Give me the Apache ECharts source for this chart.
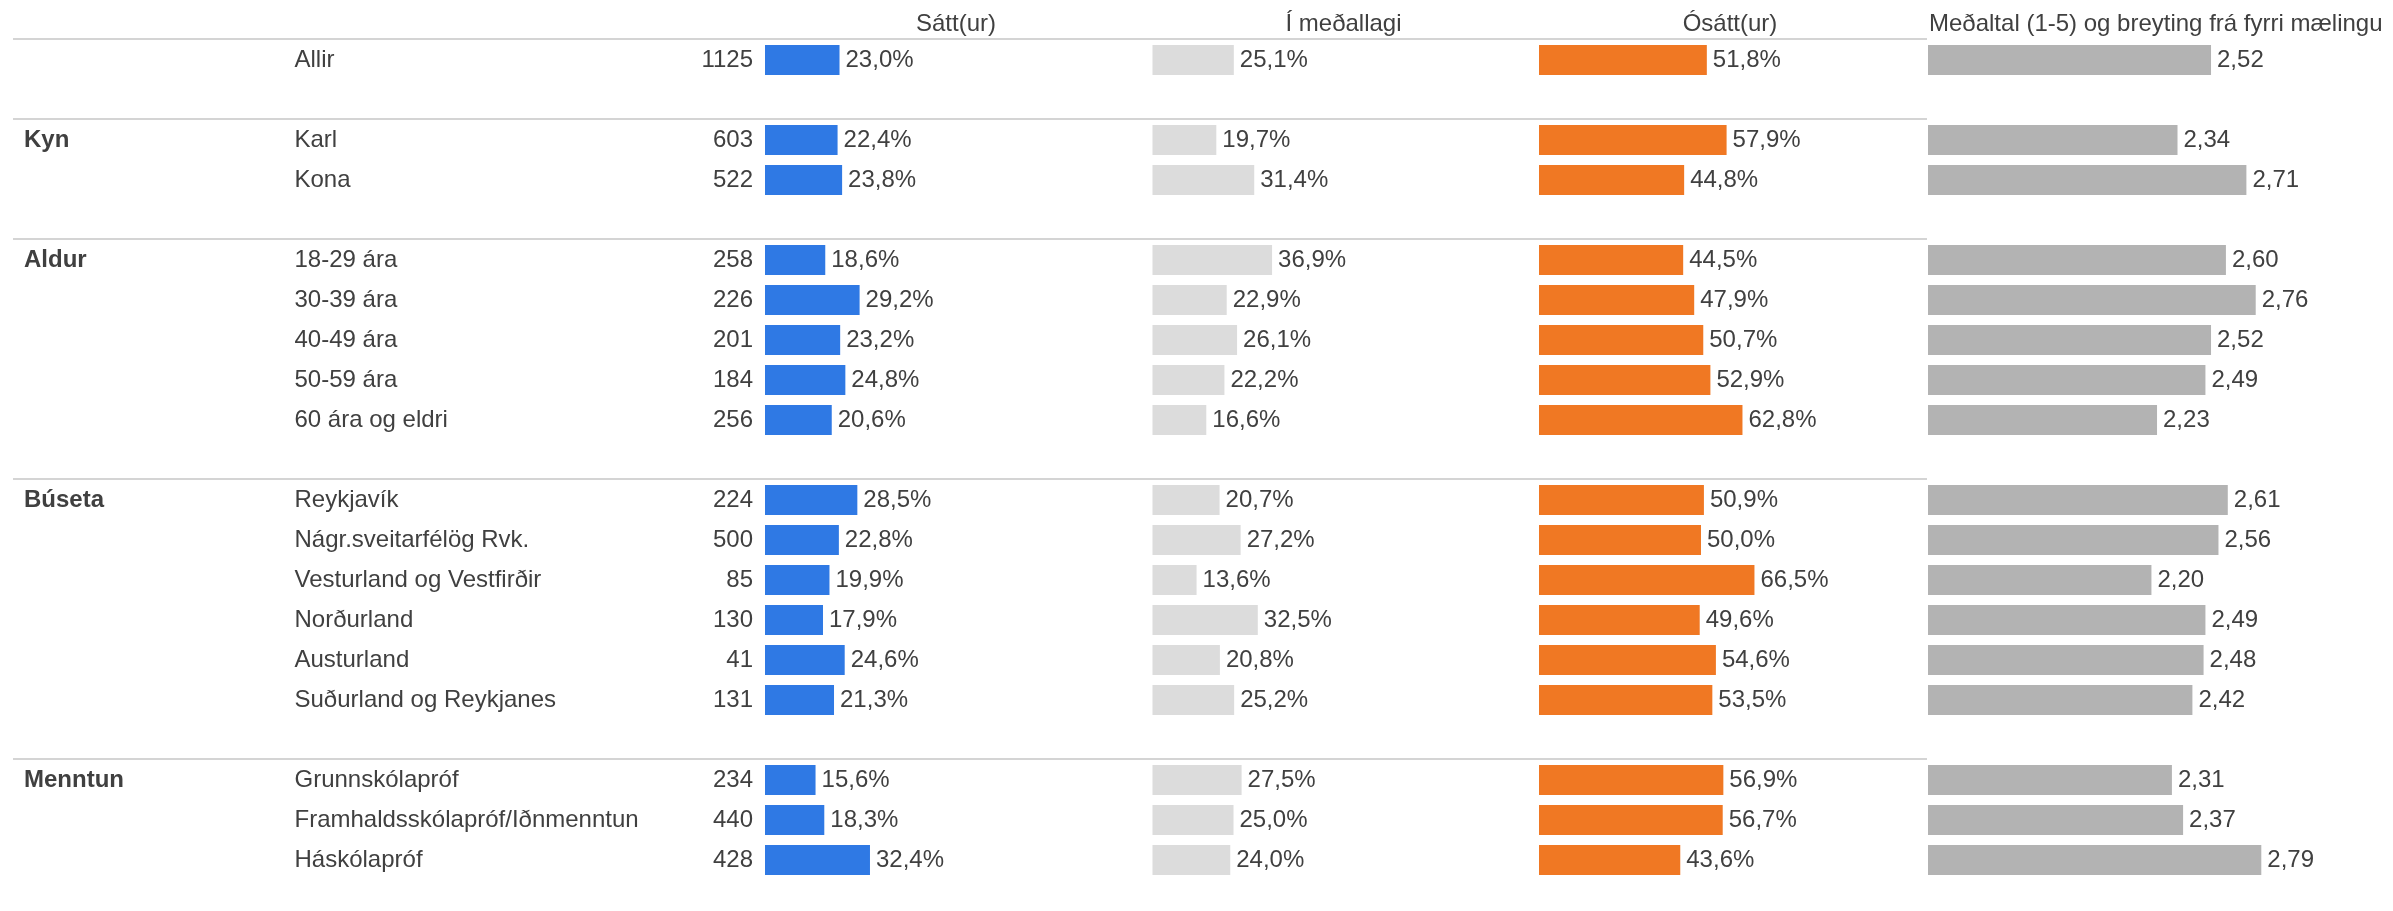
<!DOCTYPE html>
<html>
<head>
<meta charset="utf-8">
<script src="https://cdn.jsdelivr.net/npm/echarts@6/dist/echarts.min.js"></script>
<style>
  html, body { margin: 0; padding: 0; background: #ffffff; }
  #chart { width: 2393px; height: 911px; }
</style>
</head>
<body>
<div id="chart"></div>
<script>
// Column headers
const headers = ['Sátt(ur)', 'Í meðallagi', 'Ósátt(ur)', 'Meðaltal (1-5) og breyting frá fyrri mælingu'];

// Background groups and how many rows each has
const groupNames = ['', 'Kyn', 'Aldur', 'Búseta', 'Menntun'];
const groupSizes = [1, 2, 5, 6, 3];

// Row labels and sample sizes
const subLabels = ['Allir', 'Karl', 'Kona', '18-29 ára', '30-39 ára', '40-49 ára', '50-59 ára', '60 ára og eldri',
  'Reykjavík', 'Nágr.sveitarfélög Rvk.', 'Vesturland og Vestfirðir', 'Norðurland', 'Austurland', 'Suðurland og Reykjanes',
  'Grunnskólapróf', 'Framhaldsskólapróf/Iðnmenntun', 'Háskólapróf'];
const counts = [1125, 603, 522, 258, 226, 201, 184, 256, 224, 500, 85, 130, 41, 131, 234, 440, 428];

// Shares (%) and mean score (1-5)
const satt  = [23.0, 22.4, 23.8, 18.6, 29.2, 23.2, 24.8, 20.6, 28.5, 22.8, 19.9, 17.9, 24.6, 21.3, 15.6, 18.3, 32.4];
const midl  = [25.1, 19.7, 31.4, 36.9, 22.9, 26.1, 22.2, 16.6, 20.7, 27.2, 13.6, 32.5, 20.8, 25.2, 27.5, 25.0, 24.0];
const osatt = [51.8, 57.9, 44.8, 44.5, 47.9, 50.7, 52.9, 62.8, 50.9, 50.0, 66.5, 49.6, 54.6, 53.5, 56.9, 56.7, 43.6];
const mean  = [2.52, 2.34, 2.71, 2.60, 2.76, 2.52, 2.49, 2.23, 2.61, 2.56, 2.20, 2.49, 2.48, 2.42, 2.31, 2.37, 2.79];

// ---- layout ----
const FONT = "'Liberation Sans', Arial, Helvetica, sans-serif";
const TEXT = '#404040';
const FS = 24;
const TOP = 40, SLOT = 40;
const colLeft = [765, 1152.5, 1539, 1928];
const pctWidth = 324;          // 0-100 %
const meanWidth = 372.4;       // 1-3
const colors = ['#2f79e4', '#dcdcdc', '#f07823', '#b3b3b3'];

// Rows plus one blank slot between groups
const slots = [];
let r = 0;
groupSizes.forEach((size, gi) => {
  for (let k = 0; k < size; k++) slots.push({ row: r++, group: gi, first: k === 0 });
  if (gi < groupSizes.length - 1) slots.push({ row: -1, group: gi, first: false });
});
const slotKeys = slots.map((s, i) => 's' + i);
const slotOf = key => slots[+String(key).slice(1)];
const boundaries = [];
slots.forEach((s, i) => { if (s.first) boundaries.push(i); });
const H = slots.length * SLOT;

const fmtPct = v => v.toFixed(1).replace('.', ',') + '%';
const fmtMean = v => v.toFixed(2).replace('.', ',');

function catAxis(gridIndex, labelOpts) {
  return {
    type: 'category', gridIndex, data: slotKeys, inverse: true, position: 'left',
    axisLine: { show: false }, axisTick: { show: false }, splitLine: { show: false },
    axisLabel: labelOpts
      ? Object.assign({ show: true, interval: 0, color: TEXT, fontSize: FS, fontFamily: FONT }, labelOpts)
      : { show: false }
  };
}

const grids = colLeft.map((left, i) => ({ left, top: TOP, width: i === 3 ? meanWidth : pctWidth, height: H }));
grids.push({ left: 13, top: TOP - 1, width: colLeft[3] - 1 - 13, height: H });

const xAxes = [0, 1, 2].map(i => ({ type: 'value', gridIndex: i, min: 0, max: 100, show: false }));
xAxes.push({ type: 'value', gridIndex: 3, min: 1, max: 3, startValue: 1, show: false });
xAxes.push({ type: 'value', gridIndex: 4, min: 0, max: 1, show: false });

const yAxes = [
  catAxis(0, { margin: 12, align: 'right', formatter: k => { const s = slotOf(k); return s.row < 0 ? '' : String(counts[s.row]); } }),
  catAxis(0, { margin: colLeft[0] - 294.5, align: 'left', formatter: k => { const s = slotOf(k); return s.row < 0 ? '' : subLabels[s.row]; } }),
  catAxis(0, { margin: colLeft[0] - 24, align: 'left', fontWeight: 'bold', formatter: k => { const s = slotOf(k); return s.first ? groupNames[s.group] : ''; } }),
  catAxis(1), catAxis(2), catAxis(3),
  { type: 'value', gridIndex: 4, min: 0, max: slots.length, inverse: true, show: false }
];

const values = [satt, midl, osatt, mean];
const series = values.map((arr, i) => ({
  type: 'bar',
  xAxisIndex: i,
  yAxisIndex: i === 0 ? 0 : i + 2,
  data: slots.map(s => s.row < 0 ? '-' : arr[s.row]),
  barWidth: 30,
  clip: true,
  silent: true,
  itemStyle: { color: colors[i] },
  label: {
    show: true, position: 'right', distance: 6,
    color: TEXT, fontSize: FS, fontFamily: FONT,
    formatter: p => (i === 3 ? fmtMean(p.value) : fmtPct(p.value))
  }
}));

// Horizontal separators above each group
series.push({
  type: 'line', xAxisIndex: 4, yAxisIndex: 6, data: [], silent: true,
  markLine: {
    silent: true, symbol: ['none', 'none'], label: { show: false },
    lineStyle: { color: '#d4d4d4', width: 2, type: 'solid' },
    data: boundaries.map(b => ({ yAxis: b }))
  }
});

// Column headers
const graphic = headers.map((t, i) => ({
  type: 'text',
  x: i === 3 ? colLeft[3] + 1 : colLeft[i] + 191,
  y: 24,
  silent: true,
  style: { text: t, fill: TEXT, fontSize: FS, fontFamily: FONT, align: i === 3 ? 'left' : 'center', verticalAlign: 'middle' }
}));

const chart = echarts.init(document.getElementById('chart'), null, { renderer: 'canvas' });
chart.setOption({
  animation: false,
  backgroundColor: '#ffffff',
  textStyle: { fontFamily: FONT },
  grid: grids,
  xAxis: xAxes,
  yAxis: yAxes,
  series,
  graphic
});
</script>
</body>
</html>
